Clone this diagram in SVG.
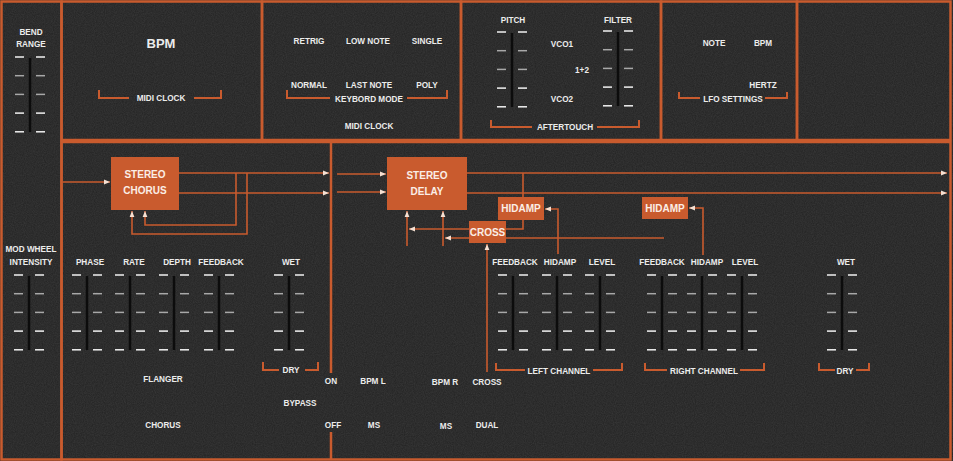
<svg xmlns="http://www.w3.org/2000/svg" xmlns:xlink="http://www.w3.org/1999/xlink" width="953" height="461" viewBox="0 0 953 461">
<style>
.panel{fill:none;stroke:#c95b2e;stroke-width:2.5}
.br{fill:none;stroke:#c95b2e;stroke-width:2}
.cn{fill:none;stroke:#c95b2e;stroke-width:1.6}
.box{fill:#c95b2e}
text{font-family:"Liberation Sans",Arial,sans-serif;font-weight:bold;fill:#ececec;text-anchor:middle}
.s{font-size:8.2px}
.b{font-size:10px;fill:#fbeee6}
.big{font-size:13px}
.tw{stroke:#f2f2f2;stroke-width:1.5}
.tg{stroke:#a8a8a8;stroke-width:1.5}
.slot{stroke:#0c0c0c;stroke-width:2.5}
</style>
<defs>
<filter id="noise" x="0" y="0" width="100%" height="100%">
<feTurbulence type="fractalNoise" baseFrequency="0.9" numOctaves="2" seed="3"/>
<feColorMatrix type="matrix" values="0 0 0 0 0.5  0 0 0 0 0.5  0 0 0 0 0.5  0.6 0 0 0 -0.1"/>
</filter>
<marker id="ah" viewBox="0 0 6 6" refX="6" refY="3" markerWidth="6" markerHeight="6" markerUnits="userSpaceOnUse" orient="auto">
<path d="M0,0.6 L6,3 L0,5.4 z" fill="#f5e0d2"/>
</marker>
<g id="slider">
<line class="slot" x1="0" y1="1" x2="0" y2="75"/>
<line class="tw" x1="-15" y1="0" x2="-6" y2="0"/><line class="tw" x1="6" y1="0" x2="15" y2="0"/>
<line class="tg" x1="-15" y1="18.7" x2="-6" y2="18.7"/><line class="tg" x1="6" y1="18.7" x2="15" y2="18.7"/>
<line class="tg" x1="-15" y1="37.4" x2="-6" y2="37.4"/><line class="tg" x1="6" y1="37.4" x2="15" y2="37.4"/>
<line class="tw" x1="-15" y1="56.1" x2="-6" y2="56.1"/><line class="tw" x1="6" y1="56.1" x2="15" y2="56.1"/>
<line class="tw" x1="-15" y1="74.8" x2="-6" y2="74.8"/><line class="tw" x1="6" y1="74.8" x2="15" y2="74.8"/>
</g>
</defs>
<rect x="0" y="0" width="953" height="461" fill="#262626"/>
<rect x="0" y="0" width="953" height="461" filter="url(#noise)" opacity="0.25"/>

<g id="panels">
<rect class="panel" x="1.5" y="1.5" width="60" height="458"/>
<rect class="panel" x="61.5" y="1.5" width="200.5" height="138.5"/>
<rect class="panel" x="262" y="1.5" width="199" height="138.5"/>
<rect class="panel" x="461" y="1.5" width="200" height="138.5"/>
<rect class="panel" x="661" y="1.5" width="136" height="138.5"/>
<rect class="panel" x="797" y="1.5" width="153.5" height="138.5"/>
<rect class="panel" x="61.5" y="142" width="889" height="317.5"/>
<line class="panel" x1="331" y1="142" x2="331" y2="373"/>
<line class="panel" x1="331" y1="432" x2="331" y2="459"/>
</g>

<g id="bend-range">
<text class="s" x="31" y="35">BEND</text>
<text class="s" x="31" y="47">RANGE</text>
<use xlink:href="#slider" x="30" y="57"/>
</g>
<g id="mod-wheel">
<text class="s" x="31" y="252">MOD WHEEL</text>
<text class="s" x="31" y="265">INTENSITY</text>
<use xlink:href="#slider" x="29" y="275"/>
</g>

<g id="bpm-panel">
<text class="big" x="161" y="48">BPM</text>
<path class="br" d="M99,90 V98 H129 M194,98 H221 V90"/>
<text class="s" x="161" y="101">MIDI CLOCK</text>
</g>

<g id="keyboard-mode">
<text class="s" x="309" y="44">RETRIG</text>
<text class="s" x="368" y="44">LOW NOTE</text>
<text class="s" x="427" y="44">SINGLE</text>
<text class="s" x="309" y="88">NORMAL</text>
<text class="s" x="369" y="88">LAST NOTE</text>
<text class="s" x="427" y="88">POLY</text>
<path class="br" d="M287,90 V98 H330 M407,98 H447 V90"/>
<text class="s" x="369" y="102">KEYBORD MODE</text>
<text class="s" x="369" y="129">MIDI CLOCK</text>
</g>

<g id="aftertouch">
<text class="s" x="513" y="23">PITCH</text>
<text class="s" x="618" y="23">FILTER</text>
<use xlink:href="#slider" x="512" y="32"/>
<use xlink:href="#slider" x="618" y="31"/>
<text class="s" x="562" y="47">VCO1</text>
<text class="s" x="582" y="73">1+2</text>
<text class="s" x="562" y="102">VCO2</text>
<path class="br" d="M491,120 V127 H532 M597,127 H639 V120"/>
<text class="s" x="565" y="130">AFTERTOUCH</text>
</g>

<g id="lfo-settings">
<text class="s" x="714" y="46">NOTE</text>
<text class="s" x="763" y="46">BPM</text>
<text class="s" x="763" y="88">HERTZ</text>
<path class="br" d="M679,92 V98 H700 M765,98 H787 V92"/>
<text class="s" x="733" y="102">LFO SETTINGS</text>
</g>

<g id="connectors">
<path class="cn" d="M63,182 H110" marker-end="url(#ah)"/>
<path class="cn" d="M179,173 H329" marker-end="url(#ah)"/>
<path class="cn" d="M179,193 H329" marker-end="url(#ah)"/>
<path class="cn" d="M236,173 V225 H145 V211" marker-end="url(#ah)"/>
<path class="cn" d="M247,173 V234 H132 V211" marker-end="url(#ah)"/>
<path class="cn" d="M337,174 H386" marker-end="url(#ah)"/>
<path class="cn" d="M337,192 H386" marker-end="url(#ah)"/>
<path class="cn" d="M467,173 H947" marker-end="url(#ah)"/>
<path class="cn" d="M467,193 H947" marker-end="url(#ah)"/>
<path class="cn" d="M523,173 V229 H506"/>
<path class="cn" d="M469,229 H409" marker-end="url(#ah)"/>
<path class="cn" d="M664,238 H445" marker-end="url(#ah)"/>
<path class="cn" d="M407,246 V211" marker-end="url(#ah)"/>
<path class="cn" d="M443,246 V211" marker-end="url(#ah)"/>
<path class="cn" d="M487,372 V244" marker-end="url(#ah)"/>
<path class="cn" d="M558,254 V209 H545" marker-end="url(#ah)"/>
<path class="cn" d="M703,255 V208 H689" marker-end="url(#ah)"/>
</g>

<g id="stereo-chorus">
<rect class="box" x="111" y="157" width="68" height="53"/>
<text class="b" x="145" y="178">STEREO</text>
<text class="b" x="145" y="194">CHORUS</text>
</g>
<g id="stereo-delay">
<rect class="box" x="387" y="157" width="80" height="53"/>
<text class="b" x="427" y="179">STEREO</text>
<text class="b" x="427" y="195">DELAY</text>
</g>
<g id="hidamp-left">
<rect class="box" x="498" y="197" width="46" height="23"/>
<text class="b" x="521" y="212">HIDAMP</text>
</g>
<g id="cross">
<rect class="box" x="469" y="221" width="37" height="22"/>
<text class="b" x="487.5" y="236">CROSS</text>
</g>
<g id="hidamp-right">
<rect class="box" x="642" y="197" width="46" height="22"/>
<text class="b" x="665" y="212">HIDAMP</text>
</g>

<g id="chorus-controls">
<text class="s" x="90" y="265">PHASE</text>
<text class="s" x="134" y="265">RATE</text>
<text class="s" x="177" y="265">DEPTH</text>
<text class="s" x="221" y="265">FEEDBACK</text>
<text class="s" x="291" y="265">WET</text>
<use xlink:href="#slider" x="87" y="275"/>
<use xlink:href="#slider" x="130" y="275"/>
<use xlink:href="#slider" x="174" y="275"/>
<use xlink:href="#slider" x="219" y="275"/>
<use xlink:href="#slider" x="289" y="275"/>
<path class="br" d="M263,362 V370 H279 M305,370 H318 V362"/>
<text class="s" x="291" y="373">DRY</text>
<text class="s" x="163" y="382">FLANGER</text>
<text class="s" x="163" y="428">CHORUS</text>
<text class="s" x="300" y="406">BYPASS</text>
<text class="s" x="331" y="384">ON</text>
<text class="s" x="333" y="428">OFF</text>
</g>

<g id="delay-controls">
<text class="s" x="515" y="265">FEEDBACK</text>
<text class="s" x="560" y="265">HIDAMP</text>
<text class="s" x="602" y="265">LEVEL</text>
<text class="s" x="662" y="265">FEEDBACK</text>
<text class="s" x="707" y="265">HIDAMP</text>
<text class="s" x="745" y="265">LEVEL</text>
<text class="s" x="846" y="265">WET</text>
<use xlink:href="#slider" x="513" y="275"/>
<use xlink:href="#slider" x="557" y="275"/>
<use xlink:href="#slider" x="600" y="275"/>
<use xlink:href="#slider" x="662" y="275"/>
<use xlink:href="#slider" x="702" y="275"/>
<use xlink:href="#slider" x="742" y="275"/>
<use xlink:href="#slider" x="842" y="275"/>
<path class="br" d="M496,363 V370 H525 M593,370 H622 V363"/>
<text class="s" x="559" y="374">LEFT CHANNEL</text>
<path class="br" d="M645,363 V370 H667 M740,370 H764 V363"/>
<text class="s" x="704" y="374">RIGHT CHANNEL</text>
<path class="br" d="M819,363 V370 H835 M856,370 H869 V363"/>
<text class="s" x="845" y="374">DRY</text>
<text class="s" x="373" y="384">BPM L</text>
<text class="s" x="445" y="385">BPM R</text>
<text class="s" x="487" y="385">CROSS</text>
<text class="s" x="374" y="428">MS</text>
<text class="s" x="446" y="429">MS</text>
<text class="s" x="487" y="428">DUAL</text>
</g>
</svg>
